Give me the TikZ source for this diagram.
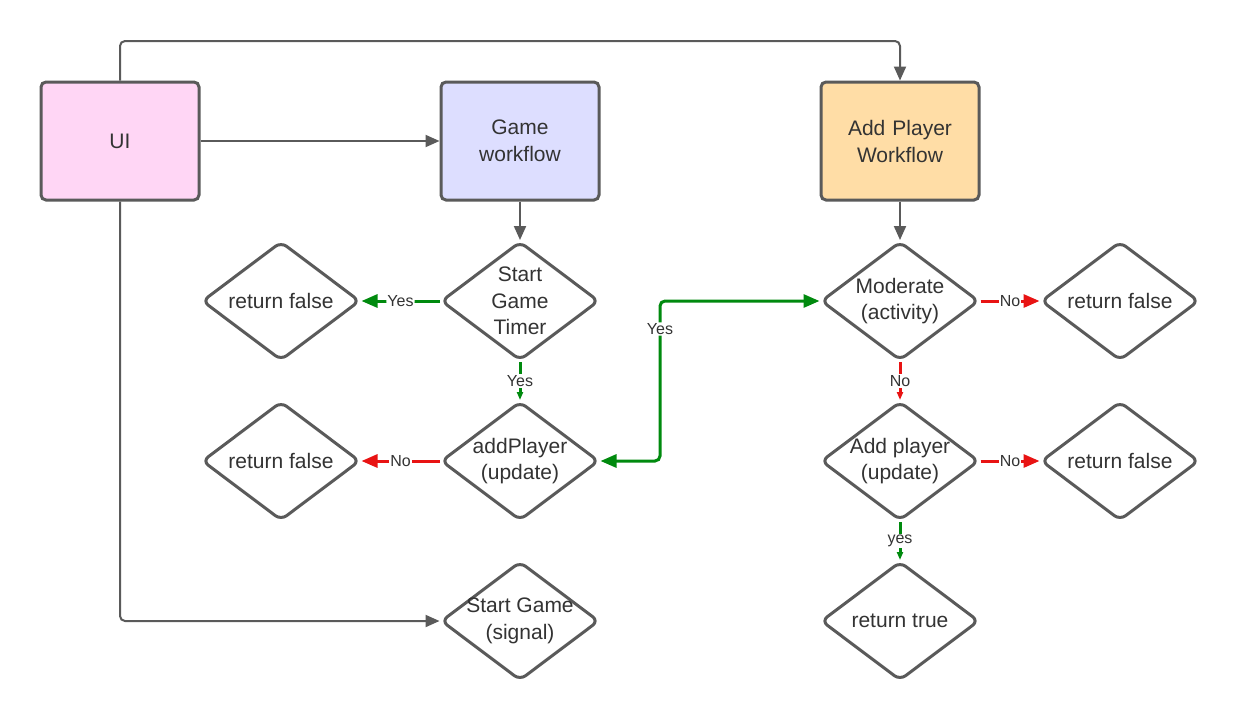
\documentclass[tikz,border=0pt]{standalone}
\usepackage{fontspec}
\setmainfont{Liberation Sans}
\usetikzlibrary{shapes.geometric,arrows.meta}
\definecolor{lc}{HTML}{5A5A5A}
\definecolor{tc}{HTML}{333333}
\definecolor{gr}{HTML}{008A0E}
\definecolor{rd}{HTML}{E81313}
\definecolor{pinkfill}{HTML}{FFD6F5}
\definecolor{bluefill}{HTML}{DDDEFF}
\definecolor{orangefill}{HTML}{FFDDA6}
\tikzset{
  box/.style={draw=lc, line width=3pt, rounded corners=5pt, minimum width=158pt, minimum height=118pt,
    text width=150pt, align=center, font=\fontsize{21}{27}\selectfont, text=tc},
  dia/.style={diamond, draw=lc, line width=3pt, rounded corners=7pt, minimum width=158pt, minimum height=119pt,
    inner sep=-30pt, aspect=1.32, align=center, font=\fontsize{21}{26.5}\selectfont, text=tc, fill=white},
  conn/.style={draw=lc, line width=2pt, rounded corners=5pt, -{Triangle[length=14pt,width=12pt]}},
  yesline/.style={draw=gr, line width=3pt, rounded corners=5pt, -{Triangle[length=16pt,width=13pt]}},
  noline/.style={draw=rd, line width=3pt, -{Triangle[length=16pt,width=13pt]}},
  yesshort/.style={draw=gr, line width=3pt, -{Triangle[length=8pt,width=6pt]}},
  noshort/.style={draw=rd, line width=3pt, -{Triangle[length=8pt,width=6pt]}},
  lbl/.style={fill=white, inner sep=1pt, font=\fontsize{16}{16}\selectfont, text=tc}
}
\begin{document}
\begin{tikzpicture}[x=1pt,y=-1pt]
\useasboundingbox[fill=white] (0,0) rectangle (1240,721);
% boxes
\node[box, fill=pinkfill] (ui) at (120,141) {UI};
\node[box, fill=bluefill] (gw) at (520,141) {Game\\workflow};
\node[box, fill=orangefill] (apw) at (900,141) {Add Player\\Workflow};
% diamonds
\node[dia] (sgt) at (520,301) {Start\\Game\\Timer};
\node[dia] (rf1) at (281,301) {return false};
\node[dia] (ap) at (520,461) {addPlayer\\(update)};
\node[dia] (rf2) at (281,461) {return false};
\node[dia] (sg) at (520,621) {Start Game\\(signal)};
\node[dia] (mod) at (900,301) {Moderate\\(activity)};
\node[dia] (rf3) at (1120,301) {return false};
\node[dia] (ap2) at (900,461) {Add player\\(update)};
\node[dia] (rf4) at (1120,461) {return false};
\node[dia] (rt) at (900,621) {return true};
\coordinate (c1) at (120,41);
\coordinate (c2) at (900,41);
\coordinate (c3) at (120,621);
\coordinate (c4) at (660,461);
\coordinate (c5) at (660,301);
% gray connectors
\draw[conn] (ui.north) -- (c1) -- (c2) -- (apw.north);
\draw[conn] (ui.east) -- (gw.west);
\draw[conn] (ui.south) -- (c3) -- (sg.west);
\draw[conn] (gw.south) -- (sgt.north);
\draw[conn] (apw.south) -- (mod.north);
% decisions
\draw[yesline] (sgt.west) -- node[lbl]{Yes} (rf1.east);
\draw[yesshort] (sgt.south) -- node[lbl]{Yes} (ap.north);
\draw[noline] (ap.west) -- node[lbl]{No} (rf2.east);
\draw[yesline, {Triangle[length=16pt,width=13pt]}-{Triangle[length=16pt,width=13pt]}] (ap.east) -- (c4) -- node[lbl, pos=0.825]{Yes} (c5) -- (mod.west);
\draw[noline] (mod.east) -- node[lbl]{No} (rf3.west);
\draw[noshort] (mod.south) -- node[lbl]{No} (ap2.north);
\draw[noline] (ap2.east) -- node[lbl]{No} (rf4.west);
\draw[yesshort] (ap2.south) -- node[lbl]{yes} (rt.north);
\end{tikzpicture}
\end{document}
